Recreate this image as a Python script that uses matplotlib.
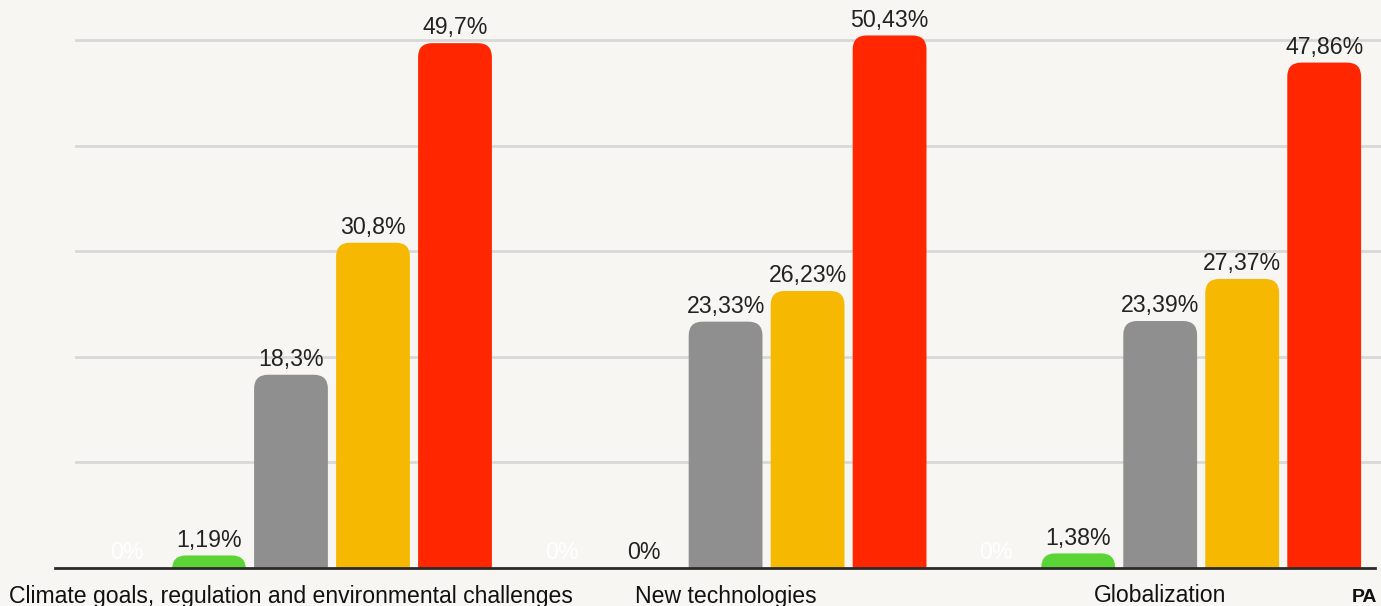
import matplotlib
matplotlib.use("Agg")
import matplotlib.pyplot as plt
from matplotlib.patches import FancyBboxPatch
from matplotlib.lines import Line2D

# data
categories = ["Climate goals, regulation and environmental challenges",
              "New technologies", "Globalization"]
series_colors = ["#FFFFFF", "#5BD535", "#8F8F8F", "#F6B800", "#FF2600"]
values = [
    [0.0, 1.19, 18.3, 30.8, 49.7],
    [0.0, 0.0, 23.33, 26.23, 50.43],
    [0.0, 1.38, 23.39, 27.37, 47.86],
]
labels = [
    ["0%", "1,19%", "18,3%", "30,8%", "49,7%"],
    ["0%", "0%", "23,33%", "26,23%", "50,43%"],
    ["0%", "1,38%", "23,39%", "27,37%", "47,86%"],
]

BG = "#F7F6F2"
W, H = 1381, 606
plt.rcParams['font.family'] = ['Liberation Sans', 'DejaVu Sans']

fig = plt.figure(figsize=(W / 100, H / 100), dpi=100, facecolor=BG)
ax_left, ax_right, ax_bot, ax_top = 75, 1381, 568, 0
ax = fig.add_axes([ax_left / W, (H - ax_bot) / H,
                   (ax_right - ax_left) / W, (ax_bot - ax_top) / H])
ax.set_facecolor(BG)

group_step = 5.3
bar_w = 0.9
ax.set_xlim(-0.634, -0.634 + (ax_right - ax_left) / 82)
ymax = ax_bot / 10.56
ax.set_ylim(0, ymax)

# pixel -> data scale for rounded corners
px_x = (ax_right - ax_left) / (ax.get_xlim()[1] - ax.get_xlim()[0])
px_y = ax_bot / ymax
aspect = px_x / px_y
radius = 14 / px_x

for gi, (vals, labs) in enumerate(zip(values, labels)):
    for bi, (v, lab) in enumerate(zip(vals, labs)):
        x = gi * group_step + bi
        if v > 0:
            p = FancyBboxPatch((x - bar_w / 2, -3), bar_w, v + 3,
                               boxstyle=f"round,pad=0,rounding_size={radius}",
                               mutation_aspect=aspect,
                               facecolor=series_colors[bi], edgecolor="none",
                               zorder=3)
            ax.add_patch(p)
        col = "white" if bi == 0 else "#222222"
        ax.text(x, v + 0.35, lab, ha="center", va="bottom", fontsize=16.7,
                color=col, zorder=4, clip_on=False)

ax.set_yticks(range(10, 51, 10))
ax.grid(axis="y", color="#D8D8D6", linewidth=2, zorder=0)
ax.set_xticks([])
ax.tick_params(left=False, labelleft=False)
for s in ax.spines.values():
    s.set_visible(False)

# baseline
fig.add_artist(Line2D([55 / W, 1375 / W], [(H - 568) / H] * 2,
                      color="#2A2A2A", linewidth=2))

# category labels
for gi, cat in enumerate(categories):
    x = gi * group_step + 2
    ax.text(x, -28 / px_y, cat, ha="center", va="center", fontsize=16.6,
            color="#111111", clip_on=False)

fig.text(1352 / W, 1 - 597 / H, "PA", fontsize=14, fontweight="bold",
         color="#111111", ha="left", va="center")

fig.savefig("out.png", dpi=100, facecolor=BG)
